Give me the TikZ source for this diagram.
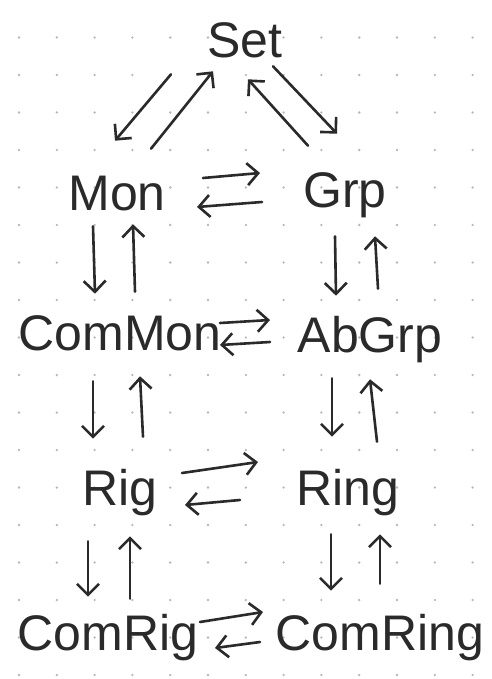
\documentclass[tikz,border=0pt]{standalone}
\usepackage{fontspec}
\setmainfont{Liberation Sans}
\usetikzlibrary{arrows.meta, calc}
\definecolor{ink}{HTML}{2A2A2A}
\definecolor{dotgray}{HTML}{B8B8B8}

\begin{document}
\begin{tikzpicture}
    [x=1pt, y=-1pt, ->, >={Straight Barb[length=11pt,width=22pt]}, line width=2.6pt,
    line cap=round, line join=round, color=ink,
    cat/.style={font=\fontsize{50}{50}\selectfont, text=ink, inner sep=0pt, text height=36pt, text depth=10pt}]
    \useasboundingbox[fill=white] (0,0) rectangle (491,679);

    % dotted paper
    \foreach \i in {0,...,12}
        \foreach \k in {1,...,18}
            \fill[dotgray] (19+37.8*\i, 37.5*\k) circle[radius=1.3pt];

    \node[cat] (Set)     at (245,45)  {Set};
    \node[cat] (Mon)     at (117,197) {Mon};
    \node[cat] (Grp)     at (345,194) {Grp};
    \node[cat] (ComMon)  at (120,337) {ComMon};
    \node[cat] (AbGrp)   at (370,339) {AbGrp};
    \node[cat] (Rig)     at (120,492) {Rig};
    \node[cat] (Ring)    at (348,492) {Ring};
    \node[cat] (ComRig)  at (108,637) {ComRig};
    \node[cat] (ComRing) at (380,637) {ComRing};

    % Set
    \draw ($(Set.south)+(-74,5)$)  -- ($(Mon.north)+(-2,-32)$);
    \draw ($(Mon.north)+(34,-24)$) -- ($(Set.south)+(-32,2)$);
    \draw ($(Grp.north)+(-37,-24)$) -- ($(Set.south)+(3,10)$);
    \draw ($(Set.south)+(28,-3)$)  -- ($(Grp.north)+(-8,-36)$);

    % horizontal pairs
    \draw ($(Mon)+(86,-19)$)      -- ($(Grp)+(-85,-21)$);
    \draw ($(Grp)+(-83,8)$)       -- ($(Mon)+(80,10)$);
    \draw ($(ComMon)+(100,-14)$)  -- ($(AbGrp)+(-100,-19)$);
    \draw ($(AbGrp)+(-100,3)$)    -- ($(ComMon)+(100,8)$);
    \draw ($(Rig)+(62,-19)$)      -- ($(Ring)+(-90,-30)$);
    \draw ($(Ring)+(-108,8)$)     -- ($(Rig)+(65,13)$);
    \draw ($(ComRig)+(92,-15)$)   -- ($(ComRing)+(-117,-25)$);
    \draw ($(ComRing)+(-120,5)$)  -- ($(ComRig)+(107,11)$);

    % vertical pairs
    \draw ($(Mon.south)+(-24,5)$)     -- ($(ComMon.north)+(-25,-19)$);
    \draw ($(ComMon.north)+(15,-21)$) -- ($(Mon.south)+(16,3)$);
    \draw ($(Grp.south)+(-10,18)$)    -- ($(AbGrp.north)+(-34,-19)$);
    \draw ($(AbGrp.north)+(8,-26)$)   -- ($(Grp.south)+(30,18)$);
    \draw ($(ComMon.south)+(-27,20)$) -- ($(Rig.north)+(-27,-29)$);
    \draw ($(Rig.north)+(23,-31)$)    -- ($(ComMon.south)+(20,15)$);
    \draw ($(AbGrp.south)+(-38,15)$)  -- ($(Ring.north)+(-16,-31)$);
    \draw ($(Ring.north)+(29,-26)$)   -- ($(AbGrp.south)+(0,16)$);
    \draw ($(Rig.south)+(-32,25)$)    -- ($(ComRig.north)+(-20,-16)$);
    \draw ($(ComRig.north)+(22,-14)$) -- ($(Rig.south)+(10,20)$);
    \draw ($(Ring.south)+(-17,18)$)   -- ($(ComRing.north)+(-49,-22)$);
    \draw ($(ComRing.north)+(0,-29)$) -- ($(Ring.south)+(32,18)$);
\end{tikzpicture}
\end{document}
